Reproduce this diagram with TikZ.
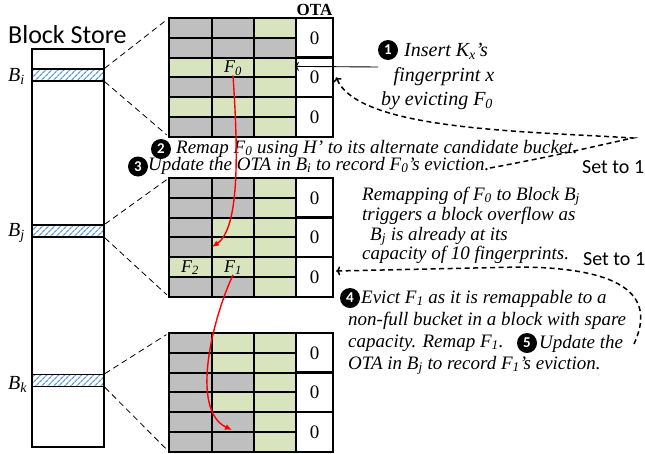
\documentclass[tikz,border=0pt]{standalone}
\usepackage{fontspec}
\setmainfont{Liberation Serif}
\newfontfamily\calfont{Carlito}
\usetikzlibrary{arrows.meta,patterns.meta}

\definecolor{cg}{HTML}{BFBFBF}
\definecolor{cn}{HTML}{D7E4BD}
\definecolor{hatchblue}{HTML}{5B9BD5}

\newcommand\sbs[1]{\textsubscript{#1}}
% one row of three fingerprint slots: top y, then the three fills
\newcommand\cellrow[4]{%
  \filldraw[cell,fill=#2] (169,#1) rectangle (211.5,{#1+19.8});
  \filldraw[cell,fill=#3] (211.5,#1) rectangle (254,{#1+19.8});
  \filldraw[cell,fill=#4] (254,#1) rectangle (296,{#1+19.8});
}
% overflow tracking array: top y, name prefix
\newcommand\otacolumn[2]{%
  \node[otacell] (#2a) at (314.5,{#1+19.8}) {0};
  \node[otacell] (#2b) at (314.5,{#1+59.4}) {0};
  \node[otacell] (#2c) at (314.5,{#1+99}) {0};
  \draw[frame] (169,#1) rectangle (333,{#1+118.8});
}

\tikzset{
  cell/.style={draw=black, line width=2pt},
  frame/.style={draw=black, line width=2.4pt},
  otacell/.style={draw=black, line width=2.4pt, fill=white, minimum width=37pt,
    minimum height=39.6pt, inner sep=0, font=\fontsize{19}{19}\selectfont},
  stripe/.style={draw=black, line width=1.8pt, minimum width=72pt, minimum height=12pt,
    inner sep=0, pattern={Lines[angle=45,distance=4pt,line width=1.3pt]}, pattern color=hatchblue},
  blabel/.style={inner sep=0, anchor=base west, font=\itshape\fontsize{20}{20}\selectfont},
  fp/.style={inner sep=0, font=\itshape\fontsize{18}{18}\selectfont},
  stepnum/.style={circle, fill=black, text=white, inner sep=0, minimum size=20pt,
    font=\calfont\bfseries\fontsize{15}{15}\selectfont},
  note/.style={inner sep=0, anchor=base west, font=\itshape\fontsize{19}{21}\selectfont},
  bignote/.style={inner sep=0, anchor=base, font=\itshape\fontsize{20}{22}\selectfont},
  calnote/.style={inner sep=0, anchor=base west, font=\calfont\fontsize{20}{20}\selectfont},
  remap/.style={red, line width=1.4pt, -{Latex[length=7pt,width=6pt]}},
  setline/.style={line width=1.5pt, dash pattern=on 5pt off 3.5pt, -{To[length=4pt,width=9pt]}},
  zoomline/.style={line width=0.8pt, dash pattern=on 6pt off 4pt},
  pointer/.style={line width=0.9pt, -{To[length=4pt,width=9pt]}},
}

\begin{document}
\begin{tikzpicture}[x=1pt,y=-1pt]
\useasboundingbox (0,0) rectangle (645,453);

% block store column with the three highlighted blocks
\node[calnote, font=\calfont\fontsize{26}{26}\selectfont] (title) at (8,43) {Block Store};
\node[draw=black, line width=2pt, minimum width=72pt, minimum height=398pt, inner sep=0]
  (store) at (68,248) {};
\node[stripe] (bi) at (68,75) {};
\node[stripe] (bj) at (68,231) {};
\node[stripe] (bk) at (68,380.5) {};
\node[blabel] (lbi) at (8,81) {B\sbs{i}};
\node[blabel] (lbj) at (8,236) {B\sbs{j}};
\node[blabel] (lbk) at (8,389) {B\sbs{k}};

% block B_i
\cellrow{18}{cg}{cg}{cn}
\cellrow{37.8}{cg}{cg}{cg}
\cellrow{57.6}{cn}{cn}{cn}
\cellrow{77.4}{cg}{cg}{cn}
\cellrow{97.2}{cn}{cn}{cn}
\cellrow{117}{cg}{cg}{cn}
\otacolumn{18}{oi}
\coordinate (gi-nw) at (169,18);
\coordinate (gi-sw) at (169,136.8);
\node[inner sep=0, anchor=base, font=\bfseries\fontsize{17}{17}\selectfont] (ota) at (314.5,15) {OTA};
\node[fp] (f0) at (233,68) {F\sbs{0}};

% block B_j
\cellrow{178}{cg}{cg}{cn}
\cellrow{197.8}{cg}{cg}{cn}
\cellrow{217.6}{cg}{cn}{cn}
\cellrow{237.4}{cg}{cn}{cn}
\cellrow{257.2}{cn}{cn}{cn}
\cellrow{277}{cg}{cg}{cn}
\otacolumn{178}{oj}
\coordinate (gj-nw) at (169,178);
\coordinate (gj-sw) at (169,296.8);
\node[fp] (f2) at (190,267.5) {F\sbs{2}};
\node[fp] (f1) at (233,267.5) {F\sbs{1}};

% block B_k
\cellrow{333}{cg}{cn}{cn}
\cellrow{352.8}{cg}{cn}{cn}
\cellrow{372.6}{cg}{cg}{cn}
\cellrow{392.4}{cg}{cn}{cn}
\cellrow{412.2}{cg}{cg}{cn}
\cellrow{432}{cg}{cg}{cn}
\otacolumn{333}{ok}
\coordinate (gk-nw) at (169,333);
\coordinate (gk-sw) at (169,451.8);

% zoom guides from each block to its expanded view
\draw[zoomline, shorten >=3pt] (bi.north east) -- (gi-nw);
\draw[zoomline, shorten >=3pt] (bi.south east) -- (gi-sw);
\draw[zoomline, shorten >=3pt] (bj.north east) -- (gj-nw);
\draw[zoomline, shorten >=3pt] (bj.south east) -- (gj-sw);
\draw[zoomline, shorten >=3pt] (bk.north east) -- (gk-nw);
\draw[zoomline, shorten >=3pt] (bk.south east) -- (gk-sw);

% step 1
\node[stepnum] (s1) at (388,50) {1};
\node[bignote] (t1a) at (446,56) {Insert K\sbs{x}’s};
\node[bignote] (t1b) at (444,81) {fingerprint x};
\node[bignote] (t1c) at (437,105) {by evicting F\sbs{0}};
\coordinate (a1) at (378,67);
\draw[pointer] (a1) -- ([yshift=11pt]oib.west);

% steps 2 and 3
\node[stepnum] (s2) at (161,149) {2};
\node[note] (t2) at (176,153) {Remap F\sbs{0} using H’ to its alternate candidate bucket.};
\node[stepnum] (s3) at (138,166.5) {3};
\node[note] (t3) at (148,170) {Update the OTA in B\sbs{i} to record F\sbs{0}’s eviction.};
\node[calnote] (set1) at (582,173) {Set to 1};
\coordinate (d1) at (490,168);
\draw[setline] (d1) .. controls (560,155) and (600,145) .. (633,138)
  .. controls (520,131) and (358,130) .. ([xshift=2pt]oib.east);

% overflow explanation
\node[note] (r1) at (362,200) {Remapping of F\sbs{0} to Block B\sbs{j}};
\node[note] (r2) at (362,220) {triggers a block overflow as};
\node[note] (r3) at (370,240) {B\sbs{j} is already at its};
\node[note] (r4) at (362,259) {capacity of 10 fingerprints.};
\node[calnote] (set2) at (583,265) {Set to 1};

% steps 4 and 5
\node[stepnum] (s4) at (350,298) {4};
\node[note] (t4a) at (361,303) {Evict F\sbs{1} as it is remappable to a};
\node[note] (t4b) at (348,325) {non-full bucket in a block with spare};
\node[note] (t4c) at (348,347) {capacity. Remap F\sbs{1}.};
\node[stepnum] (s5) at (527,343) {5};
\node[note] (t5a) at (539,348) {Update the};
\node[note] (t5b) at (348,369) {OTA in B\sbs{j} to record F\sbs{1}’s eviction.};
\coordinate (d2) at (634,344);
\draw[setline] (d2) .. controls (652,305) and (640,268) .. (520,267)
  -- ([xshift=2pt,yshift=6pt]ojc.east);

% fingerprint remapping paths
\coordinate (r1end) at (212,247);
\coordinate (r2end) at (232,430);
\draw[remap] (f0.south) .. controls (238,150) and (240,228) .. (r1end);
\draw[remap] (f1.south) .. controls (212,320) and (190,410) .. (r2end);
\end{tikzpicture}
\end{document}
